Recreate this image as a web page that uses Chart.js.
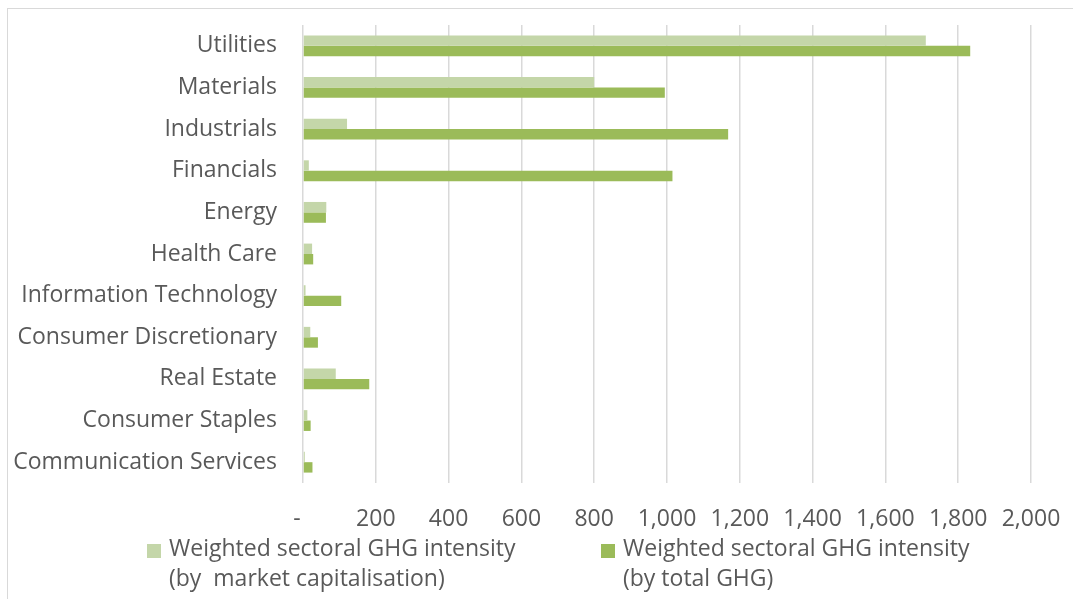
<!DOCTYPE html>
<html>
<head>
<meta charset="utf-8">
<script src="https://cdn.jsdelivr.net/npm/chart.js@4.4.1/dist/chart.umd.min.js"></script>
<style>
  html, body { margin: 0; padding: 0; background: #fff; }
  #wrap { width: 1073px; height: 599px; position: relative; }
</style>
</head>
<body>
<div id="wrap"><canvas id="chart" width="1073" height="599"></canvas></div>
<script>
// sectors, top to bottom
var categories = [
    "Utilities", "Materials", "Industrials", "Financials", "Energy", "Health Care",
    "Information Technology", "Consumer Discretionary", "Real Estate",
    "Consumer Staples", "Communication Services"
];

// weighted sectoral GHG intensity by market capitalisation
var byMarketCap = [1711, 800, 121, 16, 64, 25, 7, 20, 90, 12, 5];

// weighted sectoral GHG intensity by total GHG
var byTotalGhg = [1833, 994, 1168, 1015, 63, 28, 105, 41, 182, 21, 26];

// x axis
var xMin = 0;
var xMax = 2000;
var xStep = 200;

// legend labels (two lines each)
var labelMarketCap = ["Weighted sectoral GHG intensity", "(by  market capitalisation)"];
var labelTotalGhg = ["Weighted sectoral GHG intensity", "(by total GHG)"];

var textColor = "#595959";
var fontFamily = "'Open Sans', sans-serif";
var fontSize = 23;

// light gray frame around the chart, like the original
var framePlugin = {
    id: "frame",
    beforeDraw: function (chart) {
        var ctx = chart.ctx;
        ctx.save();
        ctx.fillStyle = "#fff";
        ctx.fillRect(0, 0, chart.width, chart.height);
        ctx.strokeStyle = "#d9d9d9";
        ctx.lineWidth = 1;
        ctx.strokeRect(7.5, 8.5, chart.width + 20, chart.height + 20);
        ctx.restore();
    }
};

// the built-in legend does not place two-line labels well, so draw it here
var legendPlugin = {
    id: "twoLineLegend",
    afterDraw: function (chart, args, opts) {
        var ctx = chart.ctx;
        var lineHeight = 30;
        var top = chart.scales.x.bottom + 15;
        ctx.save();
        ctx.font = fontSize + "px " + fontFamily;
        ctx.textBaseline = "middle";
        ctx.textAlign = "left";
        chart.data.datasets.forEach(function (ds, i) {
            var x = opts.itemX[i];
            ctx.fillStyle = ds.backgroundColor;
            ctx.fillRect(x, top - 5, 14, 14);
            ctx.fillStyle = textColor;
            ds.label.forEach(function (line, j) {
                ctx.fillText(line, x + 22, top + j * lineHeight);
            });
        });
        ctx.restore();
    }
};

new Chart(document.getElementById("chart"), {
    type: "bar",
    data: {
        labels: categories,
        datasets: [
            {
                label: labelMarketCap,
                data: byMarketCap,
                backgroundColor: "#c4d6a9",
                borderWidth: 0,
                categoryPercentage: 0.5,
                barPercentage: 1.0
            },
            {
                label: labelTotalGhg,
                data: byTotalGhg,
                backgroundColor: "#9bbb59",
                borderWidth: 0,
                categoryPercentage: 0.5,
                barPercentage: 1.0
            }
        ]
    },
    options: {
        indexAxis: "y",
        responsive: false,
        animation: false,
        layout: { padding: { top: 25, left: 0, right: 42, bottom: 65 } },
        scales: {
            x: {
                min: xMin,
                max: xMax,
                afterFit: function (scale) { scale.height = 51; },
                ticks: {
                    stepSize: xStep,
                    color: textColor,
                    padding: 0,
                    maxRotation: 0,
                    autoSkip: false,
                    font: { family: fontFamily, size: fontSize },
                    callback: function (v) {
                        return v === 0 ? "-  " : v.toLocaleString("en-US");
                    }
                },
                // tick marks are hidden, they only push the labels down
                grid: {
                    color: "#d9d9d9",
                    lineWidth: 1.5,
                    drawTicks: true,
                    tickLength: 23,
                    tickColor: "rgba(0,0,0,0)"
                },
                border: { display: false }
            },
            y: {
                afterFit: function (scale) { scale.width = 303; },
                ticks: {
                    color: textColor,
                    padding: 0,
                    autoSkip: false,
                    font: { family: fontFamily, size: fontSize }
                },
                // invisible tick marks only to keep the labels off the axis
                grid: {
                    display: true,
                    drawOnChartArea: false,
                    drawTicks: true,
                    tickLength: 26,
                    color: "rgba(0,0,0,0)"
                },
                border: { display: false }
            }
        },
        plugins: {
            legend: { display: false },
            twoLineLegend: { itemX: [147, 601] },
            tooltip: { enabled: true }
        }
    },
    plugins: [framePlugin, legendPlugin]
});
</script>
</body>
</html>
